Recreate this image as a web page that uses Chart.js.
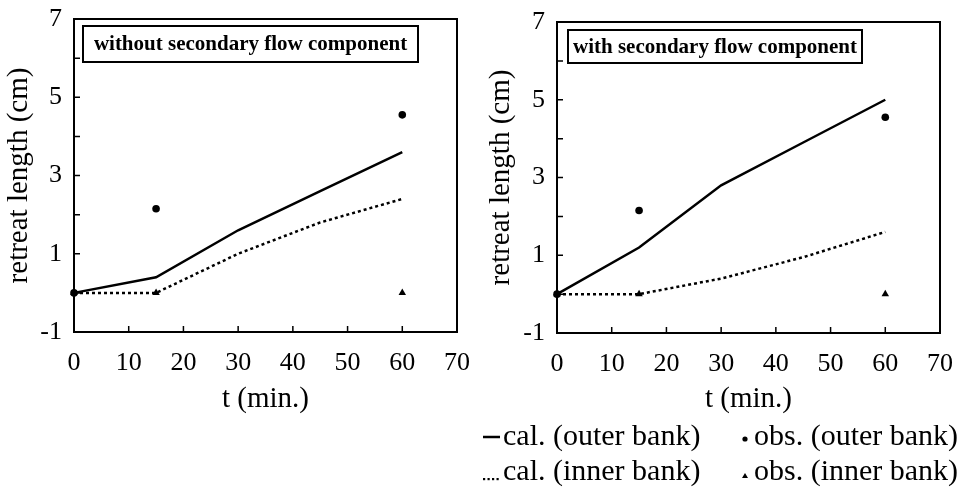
<!DOCTYPE html>
<html>
<head>
<meta charset="utf-8">
<script src="https://cdn.jsdelivr.net/npm/chart.js@4.4.1/dist/chart.umd.min.js"></script>
<style>
    body { margin: 0; background: #ffffff; }
    #wrap { position: relative; width: 962px; height: 497px; }
    canvas { position: absolute; top: 0; }
</style>
</head>
<body>
<div id="wrap">
    <canvas id="panelWithout" width="480" height="497" style="left:0"></canvas>
    <canvas id="panelWith" width="482" height="497" style="left:480px"></canvas>
</div>
<script>
const times = [0, 15, 30, 45, 60];
const calOuterWithout = [0, 0.4, 1.6, 2.6, 3.6];
const calInnerWithout = [0, 0, 1.0, 1.8, 2.4];
const calOuterWith = [0, 1.2, 2.8, 3.9, 5.0];
const calInnerWith = [0, 0, 0.4, 0.95, 1.6];
const obsTimes = [0, 15, 60];
const obsOuter = [0, 2.15, 4.55];
const obsInner = [0, 0, 0];
const yLabelled = [-1, 1, 3, 5, 7];
const legendLabels = ['cal. (outer bank)', 'obs. (outer bank)', 'cal. (inner bank)', 'obs. (inner bank)'];

(() => {
    const serif = '"Liberation Serif", "Times New Roman", serif';
    Chart.defaults.font.family = serif;
    Chart.defaults.color = '#000000';

    const toPoints = (xs, ys) => xs.map((t, i) => ({ x: t, y: ys[i] }));

    const decor = {
        id: 'decor',
        afterDatasetsDraw(chart, args, opts) {
            const { ctx, chartArea: a, scales: { x, y } } = chart;
            ctx.save();
            ctx.strokeStyle = '#000000';
            ctx.lineWidth = 2;
            ctx.strokeRect(a.left, a.top, a.right - a.left, a.bottom - a.top);

            // short inward tick marks
            ctx.lineWidth = 1.5;
            ctx.beginPath();
            for (let v = -1; v <= 7; v++) {
                const py = y.getPixelForValue(v);
                ctx.moveTo(a.left, py);
                ctx.lineTo(a.left + 6, py);
            }
            for (let v = 10; v <= 60; v += 10) {
                const px = x.getPixelForValue(v);
                ctx.moveTo(px, a.bottom);
                ctx.lineTo(px, a.bottom - 6);
            }
            ctx.stroke();

            // caption box
            const b = opts.box;
            ctx.fillStyle = '#ffffff';
            ctx.fillRect(b.x, b.y, b.w, b.h);
            ctx.lineWidth = 2;
            ctx.strokeRect(b.x, b.y, b.w, b.h);
            ctx.fillStyle = '#000000';
            ctx.font = 'bold 21px ' + serif;
            ctx.textAlign = 'center';
            ctx.textBaseline = 'middle';
            ctx.fillText(opts.note, b.x + b.w / 2, b.y + b.h / 2 + 1);

            if (opts.legend) {
                const rows = [437, 472];
                const col2 = 265;
                ctx.font = '30px ' + serif;
                ctx.textAlign = 'left';
                ctx.textBaseline = 'middle';
                // solid line key
                ctx.lineWidth = 2.5;
                ctx.beginPath();
                ctx.moveTo(3, rows[0]);
                ctx.lineTo(20, rows[0]);
                ctx.stroke();
                // dotted line key
                for (let k = 0; k < 4; k++) {
                    ctx.fillRect(3 + k * 4.5, rows[1] + 6, 2.2, 2.2);
                }
                ctx.beginPath();
                ctx.arc(col2, rows[0] + 2, 2.6, 0, Math.PI * 2);
                ctx.fill();
                ctx.beginPath();
                ctx.moveTo(col2, rows[1] + 1);
                ctx.lineTo(col2 + 3, rows[1] + 6);
                ctx.lineTo(col2 - 3, rows[1] + 6);
                ctx.closePath();
                ctx.fill();
                ctx.fillText(legendLabels[0], 23, rows[0]);
                ctx.fillText(legendLabels[1], col2 + 9, rows[0]);
                ctx.fillText(legendLabels[2], 23, rows[1]);
                ctx.fillText(legendLabels[3], col2 + 9, rows[1]);
            }
            ctx.restore();
        },
    };

    const makePanel = (elementId, calOuter, calInner, setup) => {
        const element = document.getElementById(elementId);

        new Chart(element.getContext('2d'), {
            type: 'scatter',
            data: {
                datasets: [
                    {
                        label: legendLabels[0],
                        data: toPoints(times, calOuter),
                        showLine: true,
                        borderColor: '#000000',
                        borderWidth: 2.5,
                        pointRadius: 0,
                    },
                    {
                        label: legendLabels[2],
                        data: toPoints(times, calInner),
                        showLine: true,
                        borderColor: '#000000',
                        borderWidth: 2.5,
                        borderDash: [3, 3],
                        pointRadius: 0,
                    },
                    {
                        label: legendLabels[1],
                        data: toPoints(obsTimes, obsOuter),
                        pointStyle: 'circle',
                        pointRadius: 3.8,
                        backgroundColor: '#000000',
                        borderWidth: 0,
                    },
                    {
                        label: legendLabels[3],
                        data: toPoints(obsTimes, obsInner),
                        pointStyle: 'triangle',
                        pointRadius: 4.3,
                        backgroundColor: '#000000',
                        borderWidth: 0,
                    },
                ],
            },
            options: {
                responsive: false,
                animation: false,
                events: [],
                clip: false,
                layout: {
                    padding: { top: setup.top, right: setup.right, bottom: 0, left: 0 },
                },
                plugins: {
                    legend: { display: false },
                    tooltip: { enabled: false },
                    decor: { box: setup.box, note: setup.note, legend: setup.legend },
                },
                scales: {
                    x: {
                        type: 'linear',
                        min: 0,
                        max: 70,
                        grid: { display: false, drawTicks: false },
                        border: { display: false },
                        ticks: { stepSize: 10, padding: 16, font: { size: 26 } },
                        title: {
                            display: true,
                            text: 't (min.)',
                            font: { size: 29 },
                            padding: { top: 0, bottom: 80 },
                        },
                        afterFit: (scale) => {
                            scale.height = 497 - setup.bottom;
                            scale.paddingLeft = 0;
                            scale.paddingRight = 0;
                        },
                    },
                    y: {
                        min: -1,
                        max: 7,
                        grid: { display: false, drawTicks: false },
                        border: { display: false },
                        ticks: {
                            stepSize: 1,
                            padding: 12,
                            font: { size: 26 },
                            callback: (v) => (yLabelled.includes(v) ? String(v) : ''),
                        },
                        title: {
                            display: true,
                            text: 'retreat length (cm)',
                            font: { size: 29 },
                            padding: { top: setup.titleGap, bottom: 0 },
                        },
                        afterFit: (scale) => {
                            scale.width = setup.left;
                            scale.paddingTop = 0;
                            scale.paddingBottom = 0;
                        },
                    },
                },
            },
            plugins: [decor],
        });
    };

    makePanel('panelWithout', calOuterWithout, calInnerWithout, {
        left: 74, top: 19, right: 23, bottom: 332, titleGap: 2,
        box: { x: 83, y: 26, w: 335, h: 36 },
        note: 'without secondary flow component',
        legend: false,
    });

    makePanel('panelWith', calOuterWith, calInnerWith, {
        left: 77, top: 22, right: 22, bottom: 333, titleGap: 4,
        box: { x: 88, y: 30, w: 294, h: 33 },
        note: 'with secondary flow component',
        legend: true,
    });
})();
</script>
</body>
</html>
